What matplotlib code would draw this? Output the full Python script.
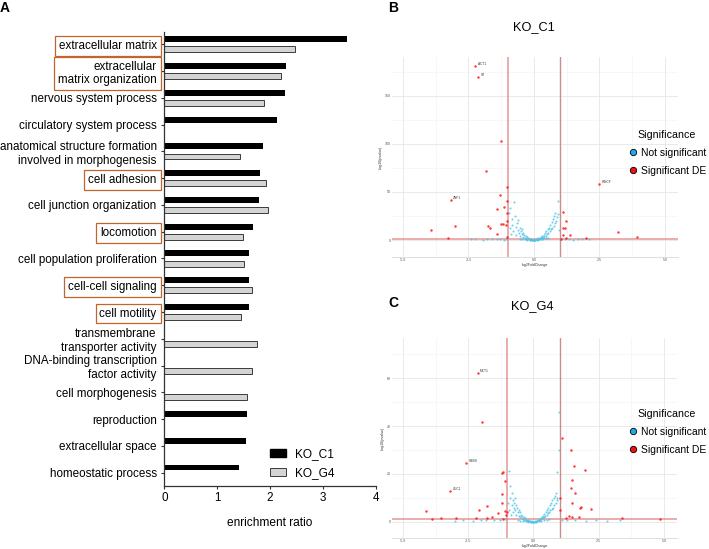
import numpy as np
import matplotlib
matplotlib.use('Agg')
import matplotlib.pyplot as plt
from matplotlib.lines import Line2D
from matplotlib.patches import Patch

plt.rcParams['font.family'] = ['Liberation Sans', 'DejaVu Sans']

# ---- Panel A: GO enrichment ----
categories = ['extracellular matrix', 'extracellular\nmatrix organization', 'nervous system process',
              'circulatory system process', 'anatomical structure formation\ninvolved in morphogenesis',
              'cell adhesion', 'cell junction organization', 'locomotion', 'cell population proliferation',
              'cell-cell signaling', 'cell motility', 'transmembrane\ntransporter activity',
              'DNA-binding transcription\nfactor activity', 'cell morphogenesis', 'reproduction',
              'extracellular space', 'homeostatic process']
ko_c1 = [3.45, 2.31, 2.28, 2.13, 1.86, 1.82, 1.80, 1.68, 1.60, 1.60, 1.60, None, None, None, 1.57, 1.54, 1.41]
ko_g4 = [2.48, 2.20, 1.88, None, 1.43, 1.93, 1.97, 1.48, 1.51, 1.66, 1.45, 1.75, 1.65, 1.56, None, None, None]
boxed = [0, 1, 5, 7, 9, 10]

# ---- Panel B: KO_C1 volcano ----
b_red_x = [-2.25, -2.14, -1.26, -1.83, -1.02, 2.49, -3.18, -1.3, -1.04, -1.14,
           -1.42, -1.02, -1.03, -1.2, -1.25, -1.06, -1.75, -1.68, -3.0, -3.93,
           -1.42, -3.3, -1.02, 1.09, 1.24, 1.18, 1.09, 1.09, 1.37, 1.24,
           1.98, 3.2, 3.92, 1.05]
b_red_y = [181, 170, 103, 72, 55, 58.7, 41.3, 46.5, 41, 34,
           32, 28, 19.8, 17, 16.5, 16, 14.5, 13, 14.5, 10,
           6.6, 2.4, 3, 29.5, 20, 13, 12, 5, 5, 2.4,
           2, 8.7, 3, 1.5]
b_label_idx = [0, 1, 5, 6]
b_label_txt = ['ACT1', 'ST', 'WNCF', 'ZNF1']

b_blue_x_left = [-0.95, -0.92, -0.9, -0.88, -0.85, -0.82, -0.8, -0.76, -0.74, -0.7,
                 -0.68, -0.65, -0.62, -0.6, -0.57, -0.55, -0.52, -0.5, -0.47, -0.45,
                 -0.42, -0.4, -0.37, -0.35, -0.32, -0.3, -0.27, -0.25, -0.22, -0.2,
                 -0.17, -0.15, -0.12, -0.1, -0.07, -0.05, -0.02, 0.0]
b_blue_y_left = [28, 12, 33, 6, 22, 16, 9, 39.6, 25, 14,
                 5, 18, 10, 21, 7, 13, 4, 9, 6, 11,
                 3, 7, 5, 2.5, 4, 1.5, 3, 1, 2, 0.8,
                 1.3, 0.4, 0.8, 0.3, 0.5, 0.2, 0.1, 0.05]
b_blue_x_right = [0.02, 0.05, 0.07, 0.1, 0.12, 0.15, 0.17, 0.2, 0.22, 0.25,
                  0.27, 0.3, 0.32, 0.35, 0.37, 0.4, 0.42, 0.45, 0.47, 0.5,
                  0.52, 0.55, 0.57, 0.6, 0.62, 0.65, 0.68, 0.7, 0.72, 0.75,
                  0.78, 0.8, 0.82, 0.85, 0.88, 0.9, 0.93, 0.96]
b_blue_y_right = [0.1, 0.3, 0.6, 0.4, 1, 0.7, 1.6, 1.1, 2.2, 1.5,
                  3, 2, 4, 2.8, 5.5, 3.5, 7, 4.5, 9, 6,
                  11, 7.5, 13, 9, 16, 11, 19, 13, 22, 15,
                  25, 18, 28, 20, 24, 41, 27, 10]
b_blue_x_base = [-0.55, -0.45, -0.35, -0.25, -0.15, -0.05, 0.05, 0.15, 0.25, 0.35, 0.45, 0.55,
                 -2.4, -2.25, -1.95, -1.78, -1.6, -1.42, -1.3, -1.15, -1.05,
                 1.05, 1.2, 1.35, 1.5, 1.7, 1.85, 2.1]
b_blue_y_base = [1.5, 1, 0.7, 0.4, 0.2, 0.1, 0.1, 0.3, 0.6, 1, 1.6, 2.2,
                 0.9, 0.6, 0.5, 1.0, 0.6, 1.1, 0.9, 0.4, 1.1,
                 1.0, 0.7, 0.9, 0.5, 1.2, 0.6, 0.8]

# ---- Panel C: KO_G4 volcano ----
c_red_x = [-2.14, -1.97, -2.57, -3.18, -1.15, -1.22, -1.1, -1.19, -1.19, -1.78,
           -2.07, -1.1, -1.03, -1.06, -1.36, -1.59, -1.77, -2.19, -1.15, -4.12,
           -3.89, -3.56, -2.96,
           1.11, 1.44, 1.55, 1.96, 1.49, 1.45, 1.59, 1.02, 1.46, 1.83,
           1.8, 2.19, 1.0, 1.37, 1.49, 1.74, 1.24, 3.4, 4.86]
c_red_y = [62.2, 41.8, 24.7, 13, 20.7, 20.3, 17.2, 11.7, 8.1, 6.8,
           4.8, 4.5, 4.2, 2.8, 3.6, 2, 1.6, 1.6, 1.4, 4.4,
           1.4, 1.5, 1.5,
           34.9, 30, 23.3, 21.5, 17.5, 14, 12.2, 9.8, 8.1, 6.4,
           6.0, 5.3, 4.9, 2.6, 2.2, 1.9, 1.5, 1.7, 1.4]
c_label_idx = [0, 2, 3]
c_label_txt = ['MCT1', 'GBSS', 'ZUC1']

c_blue_x_left = [-0.97, -0.95, -0.93, -0.9, -0.88, -0.86, -0.84, -0.82, -0.8, -0.78,
                 -0.76, -0.74, -0.72, -0.7, -0.67, -0.65, -0.62, -0.6, -0.57, -0.55,
                 -0.52, -0.5, -0.47, -0.45, -0.42, -0.4, -0.37, -0.35, -0.32, -0.3,
                 -0.27, -0.25, -0.22, -0.2, -0.17, -0.15, -0.12, -0.1, -0.07, -0.05, -0.02]
c_blue_y_left = [8, 21.4, 5, 15, 10, 3, 12, 7, 9, 4,
                 8, 6, 10, 5, 7, 3, 6, 4, 5, 2.5,
                 4, 2, 3, 1.5, 2.5, 1.2, 2, 0.8, 1.5, 0.6,
                 1, 0.4, 0.7, 0.3, 0.5, 0.2, 0.3, 0.1, 0.2, 0.1, 0.05]
c_blue_x_right = [0.02, 0.05, 0.07, 0.1, 0.12, 0.15, 0.17, 0.2, 0.22, 0.25,
                  0.27, 0.3, 0.32, 0.35, 0.37, 0.4, 0.42, 0.45, 0.47, 0.5,
                  0.52, 0.55, 0.57, 0.6, 0.62, 0.65, 0.67, 0.7, 0.72, 0.75,
                  0.77, 0.8, 0.82, 0.85, 0.87, 0.9, 0.92, 0.92, 0.98, 0.98]
c_blue_y_right = [0.05, 0.1, 0.2, 0.3, 0.5, 0.4, 0.8, 0.6, 1.1, 0.9,
                  1.5, 1.2, 2, 1.6, 2.6, 2, 3.3, 2.5, 4, 3,
                  5, 3.6, 6, 4.2, 7, 5, 8, 5.5, 9, 6,
                  10, 7, 11, 8, 12, 9, 10, 21, 30, 45.7]
c_blue_x_base = [-0.6, -0.5, -0.4, -0.3, -0.2, -0.1, 0.0, 0.1, 0.2, 0.3, 0.4, 0.5, 0.6,
                 -3.0, -2.7, -2.3, -2.0, -1.8, -1.5, -1.3, -1.1,
                 1.1, 1.3, 1.6, 2.0, 2.4, 2.8, 3.3]
c_blue_y_base = [0.8, 0.5, 0.3, 0.2, 0.1, 0.05, 0.05, 0.1, 0.2, 0.4, 0.6, 0.9, 1.1,
                 0.5, 0.8, 0.4, 1.0, 0.6, 0.9, 0.7, 1.1,
                 1.0, 0.6, 0.9, 0.5, 0.8, 0.4, 0.7]

# ---- figure ----
W, H = 709, 549
fig = plt.figure(figsize=(W / 100, H / 100), dpi=100)


def fbox(x0, y0, x1, y1):
    # pixel box (top-left origin) -> figure rect
    return [x0 / W, 1 - y1 / H, (x1 - x0) / W, (y1 - y0) / H]


orange = '#c0652b'
ax = fig.add_axes(fbox(164.3, 32.3, 375.7, 486))
y = np.arange(len(categories))
c1 = np.array(ko_c1, dtype=float)
g4 = np.array(ko_g4, dtype=float)
ax.barh(y - 0.19, np.nan_to_num(c1), height=0.22, color='black', label='KO_C1')
ax.barh(y + 0.19, np.nan_to_num(g4), height=0.22, color='#d4d4d4', edgecolor='#3a3a3a',
        linewidth=0.7, label='KO_G4')
ax.set_ylim(16.5, -0.45)
ax.set_xlim(0, 4)
ax.set_xticks([0, 1, 2, 3, 4])
ax.set_yticks(y)
ax.set_yticklabels(categories, fontsize=8.4)
ax.tick_params(axis='both', length=2.5, width=0.8, color='#333333', labelsize=8.4, pad=3)
ax.tick_params(axis='x', pad=2)
for s in ['top', 'right']:
    ax.spines[s].set_visible(False)
for s in ['left', 'bottom']:
    ax.spines[s].set_linewidth(0.9)
    ax.spines[s].set_color('#333333')
ax.set_xlabel('enrichment ratio', fontsize=8.6, labelpad=9)
for i, lab in enumerate(ax.get_yticklabels()):
    if i in boxed:
        lab.set_bbox(dict(boxstyle='square,pad=0.33', fc='none', ec=orange, lw=0.9))
ax.legend(handles=[Patch(fc='black', ec='black'), Patch(fc='#d4d4d4', ec='#3a3a3a', lw=0.7)],
          labels=['KO_C1', 'KO_G4'], loc='lower left', bbox_to_anchor=(0.45, -0.009),
          frameon=False, fontsize=8.6, handlelength=1.35, handleheight=0.65,
          handletextpad=0.75, labelspacing=0.6)


def volcano(rect, title, title_xy, rx, ry, bx, by, lidx, ltxt, ymaj, ylim, leg_xy):
    a = fig.add_axes(fbox(*rect))
    a.scatter(bx, by, s=2.2, color='#4cc3e6', alpha=0.8, lw=0, zorder=3)
    a.scatter(rx, ry, s=3.2, color='#ff1a1a', alpha=0.85, lw=0, zorder=4)
    for i, t in zip(lidx, ltxt):
        a.text(rx[i] + 0.1, ry[i], t, fontsize=2.3, color='#333333', va='bottom', zorder=5)
    a.axvline(-1, color='#e08080', lw=1.3, alpha=0.7, zorder=2)
    a.axvline(1, color='#c07070', lw=1.0, alpha=0.8, zorder=2)
    a.axhline(1.3, color='#e08080', lw=1.3, alpha=0.7, zorder=2)
    a.set_xlim(-5.42, 5.5)
    a.set_ylim(*ylim)
    a.set_xticks([-5, -2.5, 0, 2.5, 5])
    a.set_xticklabels(['-5.0', '-2.5', '0.0', '2.5', '5.0'])
    a.set_xticks([-3.75, -1.25, 1.25, 3.75], minor=True)
    yt = [0, ymaj, 2 * ymaj, 3 * ymaj]
    a.set_yticks(yt)
    a.set_yticklabels([str(v) for v in yt])
    a.set_yticks([ymaj / 2, 1.5 * ymaj, 2.5 * ymaj, 3.5 * ymaj], minor=True)
    a.grid(True, which='major', color='#e6e6e6', lw=0.6)
    a.grid(True, which='minor', color='#f2f2f2', lw=0.4)
    a.set_axisbelow(True)
    a.tick_params(which='both', length=0, labelsize=2.6, labelcolor='#555555', pad=1)
    for s in ['top', 'right', 'left']:
        a.spines[s].set_visible(False)
    a.spines['bottom'].set_color('#d9d9d9')
    a.spines['bottom'].set_linewidth(0.6)
    a.set_xlabel('log2FoldChange', fontsize=2.6, labelpad=0.5, color='#333333')
    a.set_ylabel('-log10(pvalue)', fontsize=2.6, labelpad=1, color='#333333')
    fig.text(title_xy[0] / W, 1 - title_xy[1] / H, title, fontsize=9.2, ha='center', va='center')
    handles = [Line2D([], [], ls='', marker='o', ms=4.6, mfc='#1fa9ec', mec='black', mew=0.6),
               Line2D([], [], ls='', marker='o', ms=4.6, mfc='#ee1111', mec='black', mew=0.6)]
    lg = a.legend(handles, ['Not significant', 'Significant DE'], title='Significance',
                  loc='upper left', bbox_to_anchor=(leg_xy[0] / W, 1 - leg_xy[1] / H),
                  bbox_transform=fig.transFigure, frameon=False, fontsize=7.5,
                  title_fontsize=7.7, handletextpad=0.1, labelspacing=0.75,
                  handlelength=1.2, borderpad=0)
    lg.get_title().set_ha('center')
    return a


volcano((392, 57, 678, 257), 'KO_C1', (534, 27), b_red_x, b_red_y,
        b_blue_x_left + b_blue_x_right + b_blue_x_base,
        b_blue_y_left + b_blue_y_right + b_blue_y_base,
        b_label_idx, b_label_txt, 50, (-17.7, 190.6), (622, 125))
volcano((392, 338, 677, 538), 'KO_G4', (532.7, 306), c_red_x, c_red_y,
        c_blue_x_left + c_blue_x_right + c_blue_x_base,
        c_blue_y_left + c_blue_y_right + c_blue_y_base,
        c_label_idx, c_label_txt, 20, (-6.7, 76.7), (622, 404))

for letter, px, py in [('A', 0, 8), ('B', 388, 8), ('C', 388, 303)]:
    fig.text(px / W, 1 - py / H, letter, fontsize=10, weight='bold', va='center', ha='left')

fig.savefig('out.png', dpi=100)
